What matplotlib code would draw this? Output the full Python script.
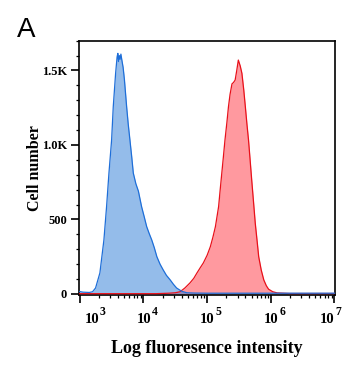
import matplotlib
matplotlib.use("Agg")
import matplotlib.pyplot as plt
from matplotlib.ticker import FixedLocator, LogLocator, MultipleLocator, NullFormatter
import numpy as np

plt.rcParams["font.family"] = ["Liberation Serif", "DejaVu Serif"]

# ---- data (log10 intensity, cell count) ----
blue_log = [2.95, 3.05, 3.15, 3.2, 3.247, 3.315, 3.378, 3.42, 3.457, 3.499,
            3.525, 3.562, 3.585, 3.597, 3.607, 3.62, 3.632, 3.645, 3.66, 3.68,
            3.70, 3.735, 3.76, 3.787, 3.815, 3.84, 3.88, 3.92, 3.97, 4.01,
            4.05, 4.09, 4.13, 4.17, 4.21, 4.26, 4.31, 4.36, 4.42, 4.47,
            4.52, 4.6, 4.68, 4.8, 5.0, 5.5, 6.0, 6.5, 7.05]
blue_cnt = [20, 12, 10, 15, 40, 141, 362, 586, 810, 1033,
            1257, 1481, 1590, 1615, 1560, 1600, 1575, 1610, 1570, 1520,
            1440, 1257, 1140, 1033, 920, 811, 740, 690, 586, 520,
            452, 405, 362, 310, 250, 200, 161, 125, 94, 65,
            40, 18, 8, 6, 5, 5, 5, 5, 5]

red_log = [2.95, 4.2, 4.4, 4.5, 4.575, 4.65, 4.73, 4.79, 4.84, 4.89,
           4.94, 5.0, 5.05, 5.09, 5.13, 5.18, 5.205, 5.23, 5.255, 5.28,
           5.31, 5.335, 5.36, 5.39, 5.415, 5.44, 5.465, 5.49, 5.52, 5.546,
           5.575, 5.6, 5.625, 5.65, 5.675, 5.70, 5.73, 5.756, 5.785, 5.81,
           5.85, 5.89, 5.93, 5.965, 6.03, 6.1, 6.3, 7.05]
red_cnt = [2, 2, 5, 8, 15, 40, 74, 105, 141, 175,
           208, 260, 317, 380, 452, 586, 700, 810, 920, 1033,
           1150, 1257, 1340, 1410, 1420, 1436, 1500, 1570, 1530, 1481,
           1370, 1257, 1140, 1033, 900, 765, 610, 474, 355, 250,
           160, 94, 55, 32, 15, 7, 3, 3]

xticks = [1e3, 1e4, 1e5, 1e6, 1e7]
xtick_exp = ["3", "4", "5", "6", "7"]
yticks = [0, 500, 1000, 1500]
ytick_labels = ["0", "500", "1.0K", "1.5K"]

fig = plt.figure(figsize=(3.6, 3.87), dpi=100)
ax = fig.add_axes([79/360, 1-295/387, 256/360, 254.3/387])

bx = 10 ** np.array(blue_log)
rx = 10 ** np.array(red_log)
ax.fill_between(rx, 0, red_cnt, color="#ff3540", alpha=0.5, lw=0, zorder=1)
ax.fill_between(bx, 0, blue_cnt, color="#2a7bd6", alpha=0.5, lw=0, zorder=2)
ax.plot(rx, red_cnt, color="#e8101a", lw=0.9, zorder=3)
ax.plot(bx, blue_cnt, color="#1e6ed8", lw=0.9, zorder=4)

ax.set_xscale("log")
ax.set_xlim(0.97e3, 1.02e7)
ax.set_ylim(-7, 1700)

for s in ax.spines.values():
    s.set_linewidth(1.2)

ax.xaxis.set_major_locator(FixedLocator(xticks))
ax.xaxis.set_minor_locator(LogLocator(base=10, subs=np.arange(2, 10)))
ax.xaxis.set_minor_formatter(NullFormatter())
ax.set_xticklabels([])
# "10" + raised exponent, placed by hand (offsets in points from each tick)
n = len(xticks)
for i, (xv, ex) in enumerate(zip(xticks, xtick_exp)):
    if i == 0:
        dx = 8.5
    elif i == n - 1:
        dx = -5.5
    else:
        dx = 0.3
    ax.annotate("10", xy=(xv, 0), xycoords=("data", "axes fraction"),
                xytext=(dx, -20.5), textcoords="offset points",
                ha="center", va="baseline", fontsize=10.5, fontweight="bold")
    ax.annotate(ex, xy=(xv, 0), xycoords=("data", "axes fraction"),
                xytext=(dx + 6.0, -14.5), textcoords="offset points",
                ha="left", va="baseline", fontsize=8.5, fontweight="bold")

ax.yaxis.set_major_locator(FixedLocator(yticks))
ax.yaxis.set_minor_locator(MultipleLocator(100))
ax.set_yticklabels(ytick_labels, fontsize=9, fontweight="bold")

ax.tick_params(which="major", length=5.5, width=1.2, direction="out")
ax.tick_params(which="minor", length=2.5, width=0.9, direction="out")
ax.tick_params(axis="y", which="major", pad=3)

ax.set_xlabel("Log fluoresence intensity", fontsize=13, fontweight="bold")
ax.xaxis.set_label_coords(0.5, -0.175)
ax.set_ylabel("Cell number", fontsize=11.5, fontweight="bold")
ax.yaxis.set_label_coords(-0.142, 0.5)

fig.text(17/360, 1-37/387, "A", fontsize=20, family="Liberation Sans", ha="left", va="baseline")

fig.savefig("out.png", dpi=100)
